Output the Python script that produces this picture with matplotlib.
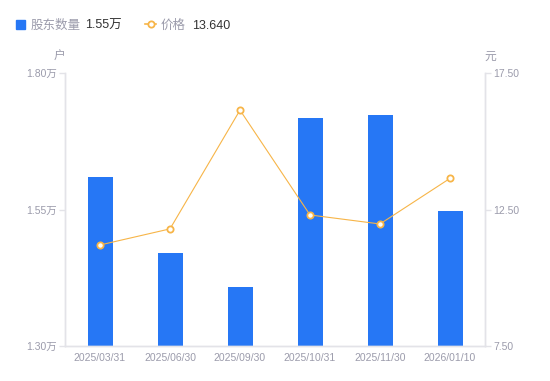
import matplotlib

matplotlib.use("Agg")
import matplotlib.pyplot as plt
from matplotlib.lines import Line2D

plt.rcParams["font.family"] = ["Liberation Sans", "Noto Sans CJK SC", "DejaVu Sans"]

dates = ["2025/03/31", "2025/06/30", "2025/09/30", "2025/10/31", "2025/11/30", "2026/01/10"]
holders = [1.61, 1.47, 1.408, 1.717, 1.723, 1.547]   # 万户
prices = [11.20, 11.79, 16.14, 12.30, 11.97, 13.64]  # 元
left_ticks = [1.30, 1.55, 1.80]
right_ticks = [7.50, 12.50, 17.50]

BLUE = "#2677f5"
ORANGE = "#f7b548"
GRAY = "#9b9bab"
AXIS = "#e3e3e8"

W, H = 550, 381
fig = plt.figure(figsize=(W / 100, H / 100), dpi=100)
ax = fig.add_axes([65 / W, 35 / H, 420 / W, 273 / H])
ax2 = ax.twinx()

x = list(range(len(dates)))
ax.bar(x, holders, width=25 / 70, color=BLUE, zorder=2)
ax.set_xlim(-0.5, len(dates) - 0.5)
ax.set_ylim(left_ticks[0], left_ticks[-1])
ax.set_yticks(left_ticks)
ax.set_yticklabels([f"{v:.2f}万" for v in left_ticks])
ax.set_xticks(x)
ax.set_xticklabels(dates)

ax2.plot(x, prices, color=ORANGE, lw=0.8, marker="o", ms=4.5,
         mfc="white", mec=ORANGE, mew=1.3, zorder=3)
ax2.set_ylim(right_ticks[0], right_ticks[-1])
ax2.set_yticks(right_ticks)
ax2.set_yticklabels([f"{v:.2f}" for v in right_ticks])

for a in (ax, ax2):
    for s in a.spines.values():
        s.set_color(AXIS)
        s.set_linewidth(1)
    a.spines["top"].set_visible(False)
    a.tick_params(axis="y", colors=AXIS, labelcolor=GRAY, labelsize=7.5, length=4, width=1, pad=2)
ax.tick_params(axis="x", length=0, labelcolor=GRAY, labelsize=7.5, pad=5)

fig.text(59 / W, 1 - 57 / H, "户", color=GRAY, fontsize=8.5, ha="center", va="center")
fig.text(490 / W, 1 - 57 / H, "元", color=GRAY, fontsize=8.5, ha="center", va="center")

# legend drawn by hand
ly = 1 - 24 / H
ty = 1 - 26 / H
fig.patches.append(plt.Rectangle((16 / W, ly - 4.5 / H), 9 / W, 9 / H, color=BLUE,
                                 transform=fig.transFigure, figure=fig))
fig.text(31 / W, ty, "股东数量", color=GRAY, fontsize=9, va="center")
fig.text(85 / W, ty, "1.55万", color="#333333", fontsize=9, va="center")
fig.lines.append(Line2D([145 / W, 156 / W], [ly, ly], color=ORANGE, lw=1.2,
                        transform=fig.transFigure))
fig.lines.append(Line2D([150.5 / W], [ly], color=ORANGE, marker="o", ms=4.5, mfc="white",
                        mec=ORANGE, mew=1.3, transform=fig.transFigure))
fig.text(161 / W, ty, "价格", color=GRAY, fontsize=9, va="center")
fig.text(192 / W, ty, "13.640", color="#333333", fontsize=9, va="center")

fig.savefig("out.png", dpi=100)
